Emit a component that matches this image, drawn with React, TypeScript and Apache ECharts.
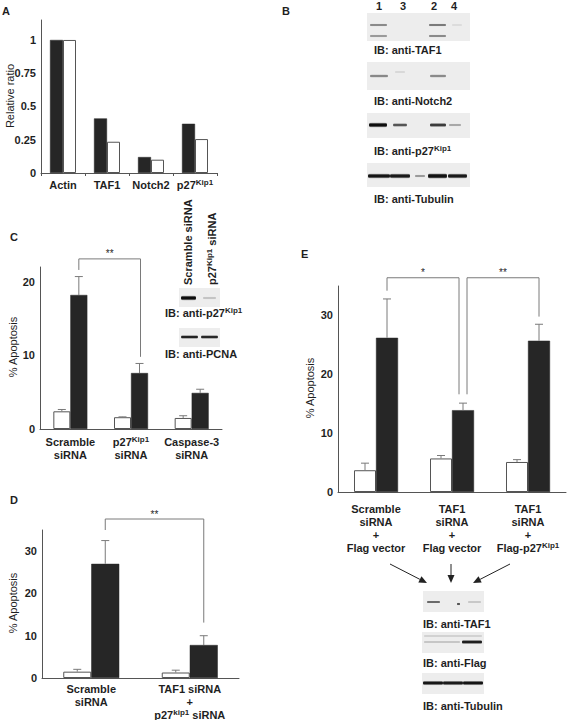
import React, { useEffect, useRef } from "react";
import * as echarts from "echarts";

const FONT = "'Liberation Sans', Arial, Helvetica, sans-serif";
const TXT = "#1f1f1f";
const AX = "#555555";
const ERR = "#7a7a7a";
const BLACK = "#262626";

// ---------- Panel A ----------
const aCategories = ["Actin", "TAF1", "Notch2", "p27Kip1"];
const aBlack = [1, 0.41, 0.12, 0.37];
const aWhite = [1, 0.235, 0.1, 0.255];
const aTicks = [0, 0.25, 0.5, 0.75, 1];

// ---------- Panel C ----------
const cCategories = ["Scramble\nsiRNA", "p27Kip1\nsiRNA", "Caspase-3\nsiRNA"];
const cWhite = [2.4, 1.6, 1.5];
const cWhiteErr = [2.65, 1.65, 1.8];
const cBlack = [18.2, 7.6, 4.9];
const cBlackErr = [20.7, 8.9, 5.4];
const cTicks = [0, 10, 20];
const cBrackets = [{ from: 0, to: 1, top: 23.1, dropL: 21.6, dropR: 9.8, nudgeL: 0, nudgeR: 1, label: "**" }];

// ---------- Panel D ----------
const dCategories = ["Scramble\nsiRNA", "TAF1 siRNA\n+\np27kip1 siRNA"];
const dWhite = [1.5, 1.3];
const dWhiteErr = [2.05, 1.85];
const dBlack = [27.0, 7.8];
const dBlackErr = [32.5, 10.0];
const dTicks = [0, 10, 20, 30];
const dBrackets = [{ from: 0, to: 1, top: 37.6, dropL: 35.0, dropR: 13.1, nudgeL: 0, nudgeR: 0, label: "**" }];

// ---------- Panel E ----------
const eCategories = [
  "Scramble\nsiRNA\n+\nFlag vector",
  "TAF1\nsiRNA\n+\nFlag vector",
  "TAF1\nsiRNA\n+\nFlag-p27Kip1",
];
const eWhite = [3.7, 5.7, 5.1];
const eWhiteErr = [4.9, 6.2, 5.5];
const eBlack = [26.2, 13.9, 25.7];
const eBlackErr = [32.8, 15.1, 28.5];
const eTicks = [0, 10, 20, 30];
const eBrackets = [
  { from: 0, to: 1, top: 36.4, dropL: 34.2, dropR: 16.6, nudgeL: 0, nudgeR: -4, label: "*" },
  { from: 1, to: 2, top: 36.4, dropL: 16.6, dropR: 29.8, nudgeL: 4, nudgeR: 0, label: "**" },
];

// ---------- rich text helpers ----------
const axisRich = {
  b: { fontFamily: FONT, fontSize: 11, fontWeight: "bold", color: TXT, lineHeight: 13 },
  s: { fontFamily: FONT, fontSize: 8, fontWeight: "bold", color: TXT, lineHeight: 8, verticalAlign: "top" },
};
const gRich = {
  b: { fontFamily: FONT, fontSize: 11, fontWeight: "bold", fill: TXT, lineHeight: 13 },
  s: { fontFamily: FONT, fontSize: 8, fontWeight: "bold", fill: TXT, lineHeight: 8, verticalAlign: "top" },
};

function supText(str: string): string {
  return str
    .split("\n")
    .map((line) => {
      const m = line.match(/^(.*?p27)([Kk]ip1)(.*)$/);
      if (m) return `{b|${m[1]}}{s|${m[2]}}` + (m[3] ? `{b|${m[3]}}` : "");
      return `{b|${line}}`;
    })
    .join("\n");
}

// ---------- axis / series builders ----------
function yAxisCfg(gridIndex: number, max: number, interval: number, ticks: number[]) {
  return {
    type: "value",
    gridIndex,
    min: 0,
    max,
    interval,
    axisLine: { show: true, lineStyle: { color: AX, width: 1 } },
    axisTick: { show: false },
    splitLine: { show: false },
    axisLabel: {
      fontFamily: FONT,
      fontSize: 11,
      fontWeight: "bold",
      color: TXT,
      margin: 5,
      formatter: (v: number) => (ticks.some((t) => Math.abs(t - v) < 1e-9) ? String(v) : ""),
    },
  };
}

function xAxisCfg(gridIndex: number, data: string[], margin: number, showTick: boolean) {
  return {
    type: "category",
    gridIndex,
    data,
    axisLine: { show: true, lineStyle: { color: AX, width: 1 } },
    axisTick: { show: showTick, length: 3, lineStyle: { color: AX } },
    splitLine: { show: false },
    axisLabel: { interval: 0, margin, formatter: (v: string) => supText(v), rich: axisRich },
  };
}

function barSeries(idx: number, data: number[], black: boolean, bw: number) {
  return {
    type: "bar",
    xAxisIndex: idx,
    yAxisIndex: idx,
    data,
    barWidth: bw,
    barGap: "0%",
    silent: true,
    itemStyle: black
      ? { color: BLACK, borderColor: BLACK, borderWidth: 0.5 }
      : { color: "#ffffff", borderColor: "#555555", borderWidth: 1 },
  };
}

function errSeries(idx: number, vals: number[], errs: number[], side: number, bw: number) {
  return {
    type: "custom",
    xAxisIndex: idx,
    yAxisIndex: idx,
    clip: false,
    silent: true,
    z: 3,
    data: vals.map((v, i) => [i, v, errs[i]]),
    renderItem: (_p: any, api: any) => {
      const base = api.coord([api.value(0), api.value(1)]);
      const top = api.coord([api.value(0), api.value(2)]);
      const x = base[0] + (side * bw) / 2;
      return {
        type: "group",
        children: [
          { type: "line", shape: { x1: x, y1: base[1], x2: x, y2: top[1] }, style: { stroke: ERR, lineWidth: 1 } },
          { type: "line", shape: { x1: x - 4, y1: top[1], x2: x + 4, y2: top[1] }, style: { stroke: ERR, lineWidth: 1 } },
        ],
      };
    },
  };
}

function bracketSeries(idx: number, brs: any[], bw: number) {
  return {
    type: "custom",
    xAxisIndex: idx,
    yAxisIndex: idx,
    clip: false,
    silent: true,
    z: 4,
    data: brs.map((b) => [b.from, b.top, b.to, b.dropL, b.dropR]),
    renderItem: (params: any, api: any) => {
      const b = brs[params.dataIndex];
      const xl = api.coord([api.value(0), 0])[0] + bw / 2 + b.nudgeL;
      const xr = api.coord([api.value(2), 0])[0] + bw / 2 + b.nudgeR;
      const yt = api.coord([api.value(0), api.value(1)])[1];
      const yl = api.coord([api.value(0), api.value(3)])[1];
      const yr = api.coord([api.value(0), api.value(4)])[1];
      return {
        type: "group",
        children: [
          {
            type: "polyline",
            shape: { points: [[xl, yl], [xl, yt], [xr, yt], [xr, yr]] },
            style: { stroke: ERR, lineWidth: 1, fill: "none" },
          },
          {
            type: "text",
            x: (xl + xr) / 2,
            y: yt - 5,
            style: {
              text: b.label,
              fontFamily: FONT,
              fontSize: 10,
              fill: TXT,
              textAlign: "center",
              textVerticalAlign: "middle",
            },
          },
        ],
      };
    },
  };
}

// ---------- graphic helpers ----------
function txt(x: number, y: number, text: string, extra: any = {}) {
  return {
    type: "text",
    x,
    y,
    silent: true,
    style: {
      text,
      fontFamily: FONT,
      fontSize: 11,
      fontWeight: "bold",
      fill: TXT,
      textAlign: "left",
      textVerticalAlign: "middle",
      ...extra,
    },
  };
}
function richTxt(x: number, y: number, text: string, extra: any = {}) {
  return {
    type: "text",
    x,
    y,
    silent: true,
    ...extra,
    style: { text: supText(text), rich: gRich, textAlign: "left", textVerticalAlign: "middle", ...(extra.style || {}) },
  };
}
function blotBox(x: number, y: number, w: number, h: number) {
  return { type: "rect", silent: true, shape: { x, y, width: w, height: h }, style: { fill: "#ededed" } };
}
function band(x1: number, x2: number, yc: number, h: number, color: string) {
  return {
    type: "rect",
    silent: true,
    shape: { x: x1, y: yc - h / 2 - 1, width: x2 - x1, height: h + 2, r: (h + 2) / 2 },
    style: {
      fill: {
        type: "linear",
        x: 0,
        y: 0,
        x2: 0,
        y2: 1,
        colorStops: [
          { offset: 0, color: "rgba(237,237,237,0)" },
          { offset: 0.3, color },
          { offset: 0.7, color },
          { offset: 1, color: "rgba(237,237,237,0)" },
        ],
      },
    },
  };
}
function arrow(x1: number, y1: number, x2: number, y2: number) {
  const dx = x2 - x1;
  const dy = y2 - y1;
  const len = Math.sqrt(dx * dx + dy * dy);
  const ux = dx / len;
  const uy = dy / len;
  const hl = 8;
  const hw = 3.5;
  const bx = x2 - ux * hl;
  const by = y2 - uy * hl;
  return [
    { type: "line", silent: true, shape: { x1, y1, x2: bx, y2: by }, style: { stroke: "#222", lineWidth: 1 } },
    {
      type: "polygon",
      silent: true,
      shape: { points: [[x2, y2], [bx - uy * hw, by + ux * hw], [bx + uy * hw, by - ux * hw]] },
      style: { fill: "#222" },
    },
  ];
}

function buildGraphics() {
  const g: any[] = [];
  // panel letters
  g.push(txt(2, 11, "A"));
  g.push(txt(282, 11, "B"));
  g.push(txt(10, 237, "C"));
  g.push(txt(10, 500, "D"));
  g.push(txt(301, 254, "E"));

  // axis titles
  const yName = (x: number, y: number, t: string) => ({
    type: "text",
    x,
    y,
    rotation: Math.PI / 2,
    silent: true,
    style: { text: t, fontFamily: FONT, fontSize: 11, fill: TXT, textAlign: "center", textVerticalAlign: "middle" },
  });
  g.push(yName(10, 96, "Relative ratio"));
  g.push(yName(13, 347, "% Apoptosis"));
  g.push(yName(13, 603, "% Apoptosis"));
  g.push(yName(310, 388, "% Apoptosis"));

  // ---- Panel B blots ----
  g.push(txt(379, 6, "1", { textAlign: "center" }));
  g.push(txt(403, 6, "3", { textAlign: "center" }));
  g.push(txt(434, 6, "2", { textAlign: "center" }));
  g.push(txt(454, 6, "4", { textAlign: "center" }));

  g.push(blotBox(367, 13, 103, 28));
  g.push(band(370, 387, 25, 1.5, "#8a8a8a"));
  g.push(band(370, 387, 36, 1.5, "#9a9a9a"));
  g.push(band(429, 446, 25, 1.5, "#7a7a7a"));
  g.push(band(429, 446, 36, 1.5, "#8a8a8a"));
  g.push(band(452, 462, 25, 1, "#dcdcdc"));
  g.push(txt(374, 50, "IB: anti-TAF1"));

  g.push(blotBox(367, 62, 103, 28));
  g.push(band(370, 388, 76, 2, "#888888"));
  g.push(band(430, 446, 76, 2, "#8a8a8a"));
  g.push(band(395, 405, 72, 1, "#d8d8d8"));
  g.push(txt(374, 101, "IB: anti-Notch2"));

  g.push(blotBox(367, 113, 103, 25));
  g.push(band(369, 387, 125, 4, "#0e0e0e"));
  g.push(band(393, 407, 125, 2.5, "#555555"));
  g.push(band(430, 446, 125, 3, "#3c3c3c"));
  g.push(band(449, 461, 125, 1.5, "#a8a8a8"));
  g.push(richTxt(374, 151, "IB: anti-p27Kip1"));

  g.push(blotBox(367, 163, 103, 24));
  g.push(band(368, 390, 176, 4, "#151515"));
  g.push(band(390, 410, 176, 4, "#1a1a1a"));
  g.push(band(415, 425, 176, 1.5, "#9a9a9a"));
  g.push(band(428, 447, 176, 4.5, "#121212"));
  g.push(band(448, 467, 176, 4, "#1a1a1a"));
  g.push(txt(374, 199, "IB: anti-Tubulin"));

  // ---- Panel C inset ----
  g.push({
    type: "text",
    x: 188,
    y: 285,
    rotation: Math.PI / 2,
    silent: true,
    style: { text: "Scramble siRNA", fontFamily: FONT, fontSize: 11, fontWeight: "bold", fill: TXT, textAlign: "left", textVerticalAlign: "middle" },
  });
  g.push(richTxt(212, 285, "p27Kip1 siRNA", { rotation: Math.PI / 2 }));
  g.push(blotBox(179, 288, 41, 19));
  g.push(band(181, 196, 298, 4, "#0c0c0c"));
  g.push(band(203, 216, 298, 1.5, "#c4c4c4"));
  g.push(richTxt(165, 313, "IB: anti-p27Kip1"));
  g.push(blotBox(179, 328, 41, 19));
  g.push(band(181, 198, 337, 2.5, "#222222"));
  g.push(band(201, 218, 337, 2.5, "#262626"));
  g.push(txt(165, 354, "IB: anti-PCNA"));

  // ---- Panel E arrows + blots ----
  g.push(...arrow(390, 564, 427, 583));
  g.push(...arrow(451, 564, 451, 583));
  g.push(...arrow(510, 564, 473, 583));

  g.push(blotBox(423, 591, 61, 21));
  g.push(band(427, 440, 602, 1.2, "#6a6a6a"));
  g.push(band(457, 460, 604, 1.5, "#555555"));
  g.push(band(468, 481, 602, 1, "#c8c8c8"));
  g.push(txt(423, 624, "IB: anti-TAF1"));

  g.push(blotBox(422, 632, 62, 21));
  g.push(band(424, 482, 636, 1, "#d2d2d2"));
  g.push(band(424, 460, 642, 1, "#c6c6c6"));
  g.push(band(462, 482, 642, 3, "#1e1e1e"));
  g.push(txt(423, 663, "IB: anti-Flag"));

  g.push(blotBox(422, 673, 62, 21));
  g.push(band(423, 443, 683, 3.5, "#161616"));
  g.push(band(443, 463, 683, 3.5, "#1a1a1a"));
  g.push(band(463, 483, 683, 3.5, "#141414"));
  g.push(txt(423, 706, "IB: anti-Tubulin"));

  return g;
}

export default function App() {
  const ref = useRef<HTMLDivElement>(null);
  useEffect(() => {
    document.body.style.margin = "0";
    const chart = echarts.init(ref.current!, null, { renderer: "svg" });
    const option: any = {
      animation: false,
      backgroundColor: "#ffffff",
      grid: [
        { left: 41, top: 20, width: 176, height: 153 },
        { left: 40, top: 267, width: 182, height: 162 },
        { left: 42, top: 530, width: 197, height: 148 },
        { left: 338, top: 286, width: 228, height: 206 },
      ],
      xAxis: [
        xAxisCfg(0, aCategories, 5, true),
        xAxisCfg(1, cCategories, 6, false),
        xAxisCfg(2, dCategories, 4, false),
        xAxisCfg(3, eCategories, 10, false),
      ],
      yAxis: [
        yAxisCfg(0, 1.15, 0.25, aTicks),
        yAxisCfg(1, 22, 10, cTicks),
        yAxisCfg(2, 35, 10, dTicks),
        yAxisCfg(3, 35, 10, eTicks),
      ],
      series: [
        barSeries(0, aBlack, true, 13),
        barSeries(0, aWhite, false, 13),

        barSeries(1, cWhite, false, 17),
        barSeries(1, cBlack, true, 17),
        errSeries(1, cWhite, cWhiteErr, -1, 17),
        errSeries(1, cBlack, cBlackErr, 1, 17),
        bracketSeries(1, cBrackets, 17),

        barSeries(2, dWhite, false, 28),
        barSeries(2, dBlack, true, 28),
        errSeries(2, dWhite, dWhiteErr, -1, 28),
        errSeries(2, dBlack, dBlackErr, 1, 28),
        bracketSeries(2, dBrackets, 28),

        barSeries(3, eWhite, false, 22),
        barSeries(3, eBlack, true, 22),
        errSeries(3, eWhite, eWhiteErr, -1, 22),
        errSeries(3, eBlack, eBlackErr, 1, 22),
        bracketSeries(3, eBrackets, 22),
      ],
      graphic: buildGraphics(),
    };
    chart.setOption(option);
    return () => chart.dispose();
  }, []);
  return <div ref={ref} style={{ width: 567, height: 720, background: "#fff" }} />;
}
